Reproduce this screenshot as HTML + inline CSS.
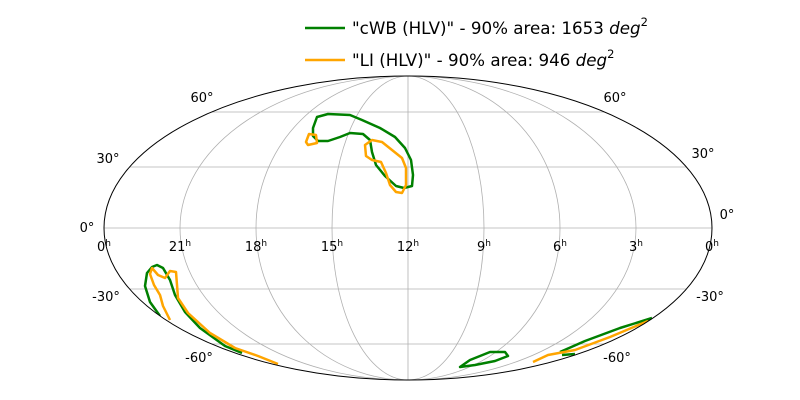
<!DOCTYPE html>
<html><head><style>
body{margin:0;background:#fff;}
svg{display:block;font-family:"DejaVu Sans","Liberation Sans",sans-serif;}
</style></head><body>
<svg width="800" height="400" viewBox="0 0 800 400" xmlns="http://www.w3.org/2000/svg">
<defs><clipPath id="c"><ellipse cx="408" cy="228" rx="304" ry="152"/></clipPath></defs>
<g stroke="#b0b0b0" stroke-width="0.8" fill="none" clip-path="url(#c)">
<ellipse cx="408" cy="228" rx="76" ry="152"/>
<ellipse cx="408" cy="228" rx="152" ry="152"/>
<ellipse cx="408" cy="228" rx="228" ry="152"/>
<line x1="408" y1="76" x2="408" y2="380"/>
<line x1="100" y1="228" x2="716" y2="228"/>
<line x1="100" y1="167" x2="716" y2="167"/>
<line x1="100" y1="289" x2="716" y2="289"/>
<line x1="100" y1="112" x2="716" y2="112"/>
<line x1="100" y1="344" x2="716" y2="344"/>
</g>
<g fill="none" stroke-width="2.5" stroke-linejoin="round" clip-path="url(#c)">
<path stroke="#008000" d="M313,128 L317,117 L328,114 L350,115 L362,120 L380,128 L395,137 L405,148 L411,160 L413,175 L412,186 L404,188 L396,186 L385,176 L376,165 L372,152 L370,140 L363,134 L350,133 L340,137 L328,141 L318,141 L313,136 Z"/>
<path stroke="#ffa500" d="M306,142 L309,134 L316,135 L317,143 L308,145 Z"/>
<path stroke="#ffa500" d="M365,145 L372,140 L382,142 L392,150 L402,158 L406,168 L406,185 L402,193 L396,192 L390,185 L386,173 L381,162 L372,160 L366,156 Z"/>
<path stroke="#008000" d="M160,316 L150,302 L145,286 L147,273 L152,267 L157,265 L163,268 L170,280 L175,295 L185,312 L200,328 L225,346 L242,353"/>
<path stroke="#ffa500" d="M170,320 L163,306 L160,295 L154,285 L150,274 L152,268 L158,275 L165,278 L170,271 L176,272 L177,285 L178,298 L188,313 L210,333 L235,348 L258,356 L278,364"/>
<path stroke="#008000" d="M460,367 L470,360 L490,352 L505,352 L508,356 L495,361 L475,365 Z"/>
<path stroke="#008000" d="M560,352 L585,341 L620,328 L652,318 M562,355 L575,354"/>
<path stroke="#ffa500" d="M533,362 L548,355 L575,350 L610,337 L648,321"/>
</g>
<ellipse cx="408" cy="228" rx="304" ry="152" fill="none" stroke="#000" stroke-width="1"/>
<g font-size="13" fill="#000" text-anchor="middle">
<text x="104" y="251">0<tspan font-size="9" dy="-5">h</tspan></text>
<text x="180" y="251">21<tspan font-size="9" dy="-5">h</tspan></text>
<text x="256" y="251">18<tspan font-size="9" dy="-5">h</tspan></text>
<text x="332" y="251">15<tspan font-size="9" dy="-5">h</tspan></text>
<text x="408" y="251">12<tspan font-size="9" dy="-5">h</tspan></text>
<text x="484" y="251">9<tspan font-size="9" dy="-5">h</tspan></text>
<text x="560" y="251">6<tspan font-size="9" dy="-5">h</tspan></text>
<text x="636" y="251">3<tspan font-size="9" dy="-5">h</tspan></text>
<text x="712" y="251">0<tspan font-size="9" dy="-5">h</tspan></text>
<text x="202" y="102">60°</text>
<text x="615" y="102">60°</text>
<text x="108" y="163">30°</text>
<text x="703" y="158">30°</text>
<text x="87" y="232">0°</text>
<text x="727" y="219">0°</text>
<text x="106" y="301">-30°</text>
<text x="710" y="301">-30°</text>
<text x="199" y="362">-60°</text>
<text x="617" y="362">-60°</text>
</g>
<line x1="305" y1="28" x2="345" y2="28" stroke="#008000" stroke-width="2.5"/>
<line x1="305" y1="60" x2="345" y2="60" stroke="#ffa500" stroke-width="2.5"/>
<g font-size="16.7" fill="#000">
<text x="352" y="34">"cWB (HLV)" - 90% area: 1653 <tspan font-style="italic">deg</tspan><tspan font-size="11.5" dy="-8">2</tspan></text>
<text x="352" y="66">"LI (HLV)" - 90% area: 946 <tspan font-style="italic">deg</tspan><tspan font-size="11.5" dy="-8">2</tspan></text>
</g>
</svg>
</body></html>
